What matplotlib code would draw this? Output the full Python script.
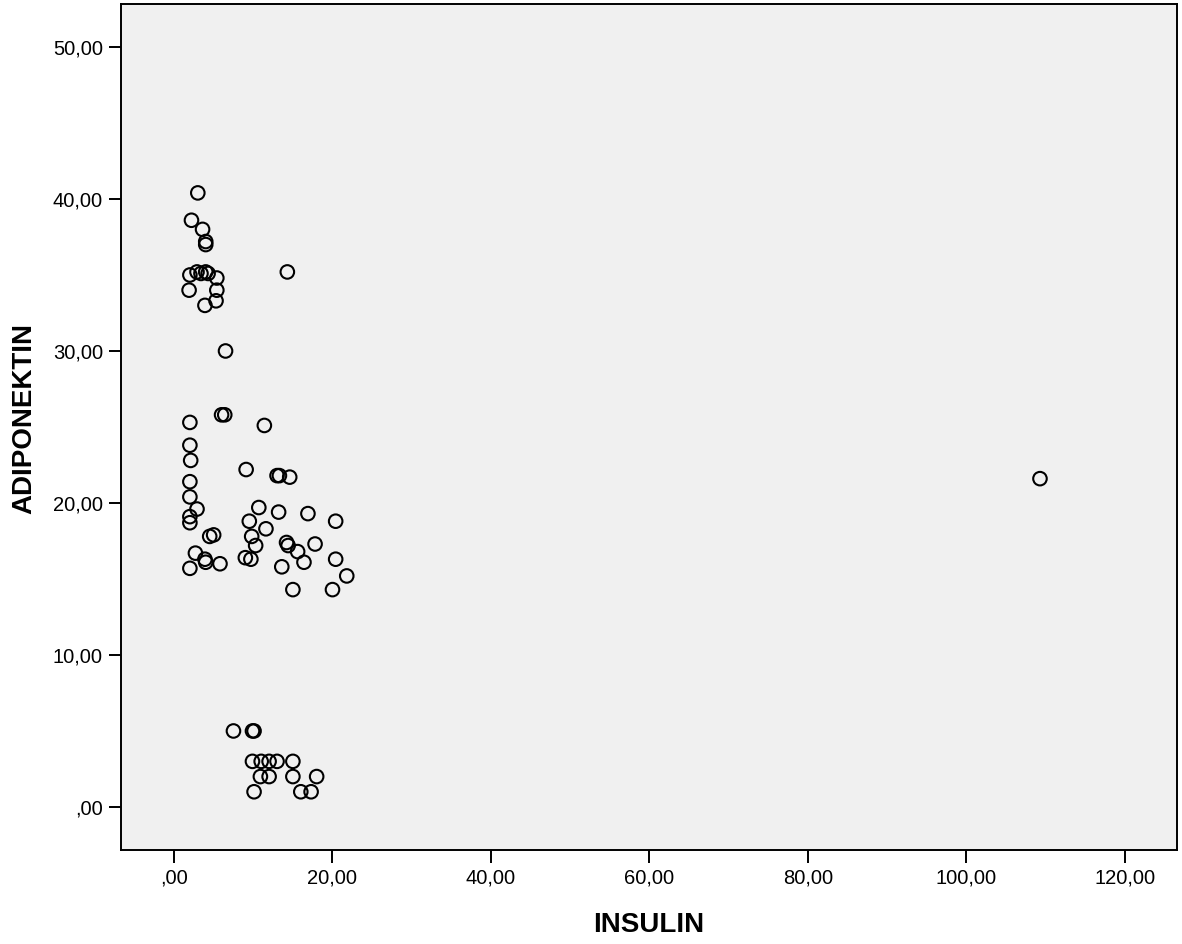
import matplotlib
matplotlib.use("Agg")
import matplotlib.pyplot as plt
from matplotlib.ticker import FuncFormatter, MultipleLocator

# data (INSULIN vs ADIPONEKTIN)
insulin = [3.0, 2.2, 3.6, 4.0, 4.0,
           2.0, 2.9, 3.4, 4.0, 4.3, 5.4,
           1.9, 5.4, 5.3, 3.9, 6.5, 14.3,
           6.0, 6.4, 2.0, 11.4, 2.0, 2.1, 9.1, 13.0, 13.3, 14.6,
           2.0, 2.0, 10.7, 2.9, 13.2, 16.9, 2.0, 2.0, 9.5, 20.4,
           11.6, 4.5, 5.0, 9.8, 14.2, 14.4, 10.3, 17.8, 15.6, 2.7,
           3.9, 4.0, 9.0, 9.7, 20.4, 16.4, 5.8, 13.6, 2.0, 21.8,
           15.0, 20.0, 109.3,
           7.5, 9.9, 10.1, 9.9, 11.0, 12.0, 13.0, 15.0,
           10.9, 12.0, 15.0, 18.0, 10.1, 16.0, 17.3]
adiponektin = [40.4, 38.6, 38.0, 37.2, 37.0,
               35.0, 35.2, 35.1, 35.2, 35.1, 34.8,
               34.0, 34.0, 33.3, 33.0, 30.0, 35.2,
               25.8, 25.8, 25.3, 25.1, 23.8, 22.8, 22.2, 21.8, 21.8, 21.7,
               21.4, 20.4, 19.7, 19.6, 19.4, 19.3, 19.1, 18.7, 18.8, 18.8,
               18.3, 17.8, 17.9, 17.8, 17.4, 17.2, 17.2, 17.3, 16.8, 16.7,
               16.3, 16.1, 16.4, 16.3, 16.3, 16.1, 16.0, 15.8, 15.7, 15.2,
               14.3, 14.3, 21.6,
               5.0, 5.0, 5.0, 3.0, 3.0, 3.0, 3.0, 3.0,
               2.0, 2.0, 2.0, 2.0, 1.0, 1.0, 1.0]

plt.rcParams['font.family'] = ['Liberation Sans', 'DejaVu Sans']

fig = plt.figure(figsize=(11.82, 9.44), dpi=100)
ax = fig.add_axes([0.1024, 0.0996, 0.8934, 0.8962])
ax.set_facecolor('#F0F0F0')

ax.scatter(insulin, adiponektin, s=95, facecolors='none', edgecolors='black', linewidths=1.5)

ax.set_xlim(-6.69, 126.6)
ax.set_ylim(-2.83, 52.83)
ax.xaxis.set_major_locator(MultipleLocator(20))
ax.yaxis.set_major_locator(MultipleLocator(10))


def comma_fmt(v, pos):
    s = f"{v:.2f}".replace('.', ',')
    if s.startswith('0,'):
        s = s[1:]
    return s


ax.xaxis.set_major_formatter(FuncFormatter(comma_fmt))
ax.yaxis.set_major_formatter(FuncFormatter(comma_fmt))
ax.tick_params(axis='both', length=9, width=1.4, labelsize=14.5, pad=4)
for sp in ax.spines.values():
    sp.set_linewidth(1.4)

ax.set_xlabel('INSULIN', fontsize=20, fontweight='bold', labelpad=18)
ax.set_ylabel('ADIPONEKTIN', fontsize=20, fontweight='bold')
ax.yaxis.set_label_coords(-0.079, 0.51)

fig.savefig('out.png', dpi=100, facecolor='white')
